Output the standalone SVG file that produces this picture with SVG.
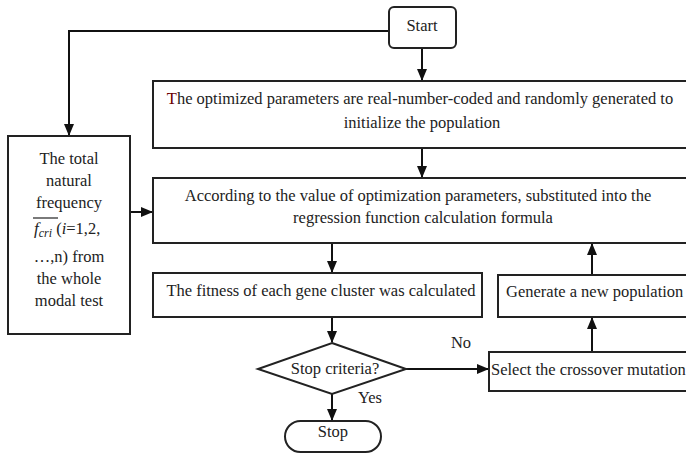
<svg xmlns="http://www.w3.org/2000/svg" width="686" height="453" viewBox="0 0 686 453">
<defs>
<marker id="ah" markerWidth="12" markerHeight="10" refX="11" refY="5" orient="auto" markerUnits="userSpaceOnUse">
<path d="M0,0 L12,5 L0,10 Z" fill="#111"/>
</marker>
<style>
.box{fill:#fff;stroke:#222;stroke-width:2}
.c{text-anchor:middle}
.ln{fill:none;stroke:#111;stroke-width:2}
</style>
</defs>
<rect width="686" height="453" fill="#fff"/>
<g id="connectors">
<path class="ln" d="M389,31 H69 V135" marker-end="url(#ah)"/>
<path class="ln" d="M422,48 V80" marker-end="url(#ah)"/>
<path class="ln" d="M422,148 V177" marker-end="url(#ah)"/>
<path class="ln" d="M130,212 H152" marker-end="url(#ah)"/>
<path class="ln" d="M332,243 V272" marker-end="url(#ah)"/>
<path class="ln" d="M332,317 V342" marker-end="url(#ah)"/>
<path class="ln" d="M332,394 V420" marker-end="url(#ah)"/>
<path class="ln" d="M406,369 H488" marker-end="url(#ah)"/>
<path class="ln" d="M592,352 V318" marker-end="url(#ah)"/>
<path class="ln" d="M592,275 V244" marker-end="url(#ah)"/>
<text class="c" x="461" y="348" style="font-family:'Liberation Serif';font-size:16.5px;fill:#222">No</text>
<text class="c" x="370" y="403" style="font-family:'Liberation Serif';font-size:16.5px;fill:#222">Yes</text>
</g>
<g id="start">
<rect class="box" x="389" y="7" width="67" height="41" rx="5"/>
<text class="c" x="422" y="31" style="font-family:'Liberation Serif';font-size:16.5px;fill:#222">Start</text>
</g>
<g id="init">
<rect class="box" x="153" y="81" width="540" height="67"/>
<text class="c" x="420" y="104" style="font-family:'Liberation Serif';font-size:16.5px;fill:#222"><tspan style="fill:#6b0000">T</tspan>he optimized parameters are real-number-coded and randomly generated to</text>
<text class="c" x="422" y="128" style="font-family:'Liberation Serif';font-size:16.5px;fill:#222">initialize the population</text>
</g>
<g id="regression">
<rect class="box" x="153" y="178" width="540" height="65"/>
<text class="c" x="418" y="201" style="font-family:'Liberation Serif';font-size:16.5px;fill:#222">According to the value of optimization parameters, substituted into the</text>
<text class="c" x="423" y="223" style="font-family:'Liberation Serif';font-size:16.5px;fill:#222">regression function calculation formula</text>
</g>
<g id="frequency">
<rect class="box" x="8" y="136" width="122" height="198"/>
<text class="c" x="69" y="164" style="font-family:'Liberation Serif';font-size:16.5px;fill:#222">The total</text>
<text class="c" x="69" y="186" style="font-family:'Liberation Serif';font-size:16.5px;fill:#222">natural</text>
<text class="c" x="69" y="208" style="font-family:'Liberation Serif';font-size:16.5px;fill:#222">frequency</text>
<line x1="33" y1="218" x2="58" y2="218" stroke="#222" stroke-width="1.2"/>
<text x="34" y="234" style="font-family:'Liberation Serif';font-size:16.5px;fill:#222"><tspan style="font-style:italic;font-size:17px">f</tspan><tspan dy="3" style="font-style:italic;font-size:12px">cri</tspan><tspan dy="-3"> (</tspan><tspan style="font-style:italic">i</tspan>=1,2,</text>
<text class="c" x="69" y="262" style="font-family:'Liberation Serif';font-size:16.5px;fill:#222">…,n) from</text>
<text class="c" x="69" y="284" style="font-family:'Liberation Serif';font-size:16.5px;fill:#222">the whole</text>
<text class="c" x="69" y="306" style="font-family:'Liberation Serif';font-size:16.5px;fill:#222">modal test</text>
</g>
<g id="fitness">
<rect class="box" x="153" y="273" width="329" height="44"/>
<text class="c" x="321" y="296" style="font-family:'Liberation Serif';font-size:16.5px;fill:#222">The fitness of each gene cluster was calculated</text>
</g>
<g id="decision">
<polygon class="box" points="332,343 406,369 332,394 258,369"/>
<text class="c" x="335" y="374" style="font-family:'Liberation Serif';font-size:16.5px;fill:#222">Stop criteria?</text>
</g>
<g id="stop">
<rect class="box" x="285" y="421" width="96" height="31" rx="15.5"/>
<text class="c" x="333" y="437" style="font-family:'Liberation Serif';font-size:16.5px;fill:#222">Stop</text>
</g>
<g id="generate">
<rect class="box" x="498" y="275" width="195" height="42"/>
<text x="506" y="297" style="font-family:'Liberation Serif';font-size:16.5px;fill:#222">Generate a new population</text>
</g>
<g id="select">
<rect class="box" x="489" y="352" width="204" height="39"/>
<text x="491" y="375" style="font-family:'Liberation Serif';font-size:16.5px;fill:#222">Select the crossover mutation</text>
</g>
</svg>
